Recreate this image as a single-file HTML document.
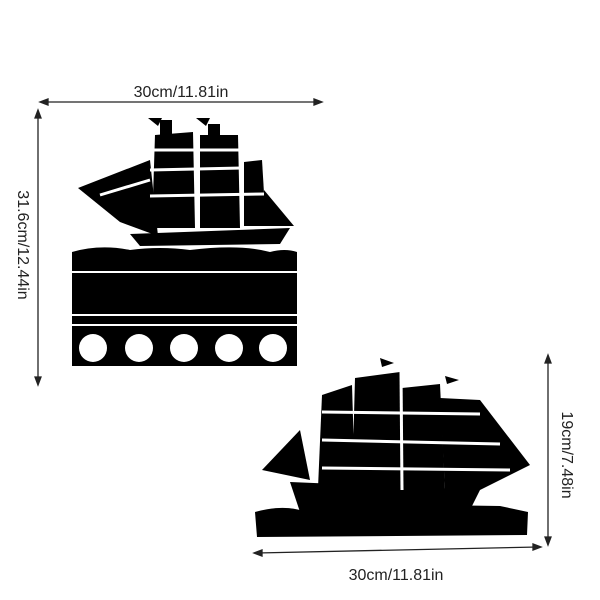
<!DOCTYPE html>
<html><head><style>body{margin:0;background:#fff}svg{display:block}</style></head><body>
<svg width="600" height="600" viewBox="0 0 600 600" xmlns="http://www.w3.org/2000/svg" font-family="Liberation Sans, sans-serif">
<rect width="600" height="600" fill="#fff"/>
<g stroke="#222" stroke-width="1.3" fill="#222">
<line x1="42" y1="102" x2="320" y2="102"/><path d="M40 102l8-3v6z M322 102l-8-3v6z"/>
<line x1="38" y1="112" x2="38" y2="383"/><path d="M38 110l-3 8h6z M38 385l-3-8h6z"/>
<line x1="548" y1="358" x2="548" y2="542"/><path d="M548 355l-3 8h6z M548 545l-3-8h6z"/>
<line x1="257" y1="553" x2="538" y2="547"/><path d="M254 553l8-3v6z M541 547l-8-3v6z"/>
</g>
<g fill="#222" font-size="16">
<text x="181" y="97" text-anchor="middle">30cm/11.81in</text>
<text x="396" y="580" text-anchor="middle">30cm/11.81in</text>
<text transform="translate(18,245) rotate(90)" text-anchor="middle">31.6cm/12.44in</text>
<text transform="translate(562,455) rotate(90)" text-anchor="middle">19cm/7.48in</text>
</g>
<!-- top piece -->
<g fill="#000">
<path d="M72 252 Q100 244 130 250 Q160 246 190 250 Q240 244 270 252 Q285 248 297 252 L297 366 L72 366 Z"/>
<path d="M130 234 L290 228 L280 244 L140 246 Z"/>
<path d="M78 188 L150 160 L158 236 L120 222 Z"/>
<path d="M155 135 L193 132 L195 228 L152 228 Z"/>
<path d="M200 135 L238 135 L240 228 L200 228 Z"/>
<path d="M244 162 L262 160 L266 226 L244 226 Z"/>
<path d="M264 190 L294 226 L264 226 Z"/>
<rect x="160" y="120" width="12" height="16"/><rect x="208" y="124" width="12" height="12"/>
<path d="M148 118 l14 0 -4 8z M196 118 l14 0 -4 8z"/>
</g>
<g stroke="#fff" stroke-width="3">
<line x1="150" y1="150" x2="242" y2="150"/><line x1="150" y1="170" x2="242" y2="168"/><line x1="150" y1="196" x2="264" y2="194"/>
<line x1="100" y1="195" x2="150" y2="180"/><line x1="196" y1="135" x2="198" y2="228"/>
</g>
<g stroke="#fff" stroke-width="2">
<line x1="72" y1="272" x2="297" y2="272"/><line x1="72" y1="315" x2="297" y2="315"/><line x1="72" y1="325" x2="297" y2="325"/>
</g>
<g fill="#fff"><circle cx="93" cy="348" r="14"/><circle cx="139" cy="348" r="14"/><circle cx="184" cy="348" r="14"/><circle cx="229" cy="348" r="14"/><circle cx="273" cy="348" r="14"/></g>
<!-- bottom piece -->
<g fill="#000">
<path d="M255 512 Q280 505 300 510 Q400 504 500 506 L528 512 L527 535 L257 537 Z"/>
<path d="M290 482 L480 490 L470 510 L300 512 Z"/>
<path d="M262 470 L300 430 L310 480 Z"/>
<path d="M322 395 L352 385 L355 485 L318 488 Z"/>
<path d="M355 378 L400 372 L402 490 L352 490 Z"/>
<path d="M402 388 L440 384 L445 490 L402 490 Z"/>
<path d="M440 398 L480 400 L530 465 L480 490 L445 490 Z"/>
<path d="M380 358 l14 5 -12 4z M445 376 l14 4 -12 4z"/>
</g>
<g stroke="#fff" stroke-width="3">
<line x1="322" y1="412" x2="480" y2="414"/><line x1="322" y1="440" x2="500" y2="444"/><line x1="322" y1="468" x2="510" y2="470"/>
<line x1="401" y1="372" x2="402" y2="490"/>
</g>
</svg>
</body></html>
